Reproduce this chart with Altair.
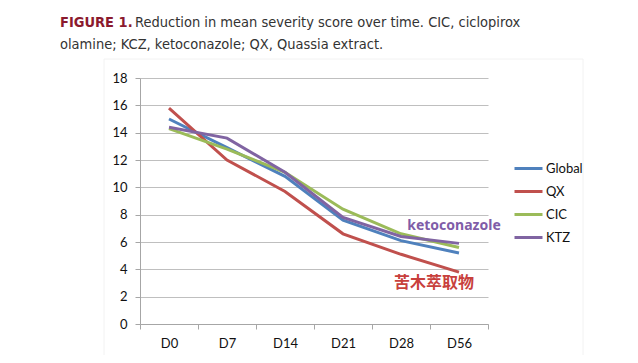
import altair as alt
import pandas as pd

days = ["D0", "D7", "D14", "D21", "D28", "D56"]
series_names = ["Global", "QX", "CIC", "KTZ"]
global_vals = [15.0, 12.9, 10.8, 7.6, 6.1, 5.2]
qx_vals = [15.8, 12.0, 9.7, 6.6, 5.1, 3.8]
cic_vals = [14.3, 12.8, 11.1, 8.4, 6.6, 5.6]
ktz_vals = [14.4, 13.6, 11.1, 7.8, 6.4, 5.9]
colors = ["#4F81BD", "#C0504D", "#9BBB59", "#8064A2"]
y_ticks = [0, 2, 4, 6, 8, 10, 12, 14, 16, 18]

rows = []
for name, vals in zip(series_names, [global_vals, qx_vals, cic_vals, ktz_vals]):
    for d, v in zip(days, vals):
        rows.append({"day": d, "series": name, "score": v})
df = pd.DataFrame(rows)

W, H = 348, 246

x_axis = alt.Axis(title=None, tickBand="extent", grid=False, domainColor="#A6A6A6",
                  tickColor="#A6A6A6", tickSize=5, labelPadding=8, labelAngle=0,
                  labelOverlap=False, labelFont="Lato", labelFontSize=13,
                  labelColor="#111111")
y_axis = alt.Axis(title=None, values=y_ticks, grid=True, gridColor="#BFBFBF",
                  gridWidth=1.2, domainColor="#A6A6A6", tickColor="#A6A6A6",
                  tickSize=5, labelPadding=8, labelOverlap=False, labelFont="Lato",
                  labelFontSize=13, labelColor="#111111")
x_scale = alt.Scale(type="band", domain=days, paddingInner=0, paddingOuter=0)
y_scale = alt.Scale(domain=[0, 18], nice=False)


def xe():
    return alt.X("day:N", sort=days, bandPosition=0.5, scale=x_scale, axis=x_axis)


def ye():
    return alt.Y("score:Q", scale=y_scale, axis=y_axis)


lines = alt.Chart(df).mark_line(strokeWidth=3).encode(
    x=xe(),
    y=ye(),
    color=alt.Color("series:N", scale=alt.Scale(domain=series_names, range=colors),
                    legend=alt.Legend(title=None, orient="none", legendX=373, legendY=75,
                                      symbolType="stroke", symbolSize=784,
                                      symbolStrokeWidth=3, rowPadding=0, labelOffset=2,
                                      labelFont="Lato", labelFontSize=13,
                                      labelColor="#111111", padding=0)),
)

ann_df = pd.DataFrame({
    "day": ["D56", "D56"],
    "score": [7.2, 3.0],
    "label": ["ketoconazole", "苦木萃取物"],
})
keto = alt.Chart(ann_df.iloc[[0]]).mark_text(
    font="Noto Sans", fontWeight="bold", fontSize=14, color="#7F5DA8", dx=-5
).encode(x=xe(), y=ye(), text="label:N")
cjk = alt.Chart(ann_df.iloc[[1]]).mark_text(
    font="Noto Sans CJK SC", fontWeight="bold", fontSize=16, color="#C8403C", dx=-25
).encode(x=xe(), y=ye(), text="label:N")

title_font = "DejaVu Sans Condensed, Liberation Sans Narrow, Roboto, sans-serif"
fs = 14.5
t1 = alt.Chart(pd.DataFrame({"t": ["FIGURE 1."]})).mark_text(
    font=title_font, fontWeight="bold", fontSize=fs, color="#8B1A2E", align="left",
    baseline="alphabetic"
).encode(x=alt.value(-80), y=alt.value(-51), text="t:N")
t2 = alt.Chart(pd.DataFrame({"t": ["Reduction in mean severity score over time. CIC, ciclopirox"]})).mark_text(
    font=title_font, fontSize=fs, color="#333333", align="left", baseline="alphabetic"
).encode(x=alt.value(-5), y=alt.value(-51), text="t:N")
t3 = alt.Chart(pd.DataFrame({"t": ["olamine; KCZ, ketoconazole; QX, Quassia extract."]})).mark_text(
    font=title_font, fontSize=fs, color="#333333", align="left", baseline="alphabetic"
).encode(x=alt.value(-80), y=alt.value(-29), text="t:N")

frame = alt.Chart(pd.DataFrame({"a": [0]})).mark_rect(
    fill=None, stroke="#F2F2F2", strokeWidth=1
).encode(x=alt.value(-36), x2=alt.value(443), y=alt.value(-19), y2=alt.value(300))

chart = alt.layer(frame, lines, keto, cjk, t1, t2, t3).properties(
    width=W, height=H,
    autosize=alt.AutoSizeParams(type="none"),
    padding={"left": 132, "top": 70, "right": 142, "bottom": 31},
    background="white",
).configure_view(stroke=None)

chart.save("out.html", embed_options={"renderer": "svg", "actions": False})
